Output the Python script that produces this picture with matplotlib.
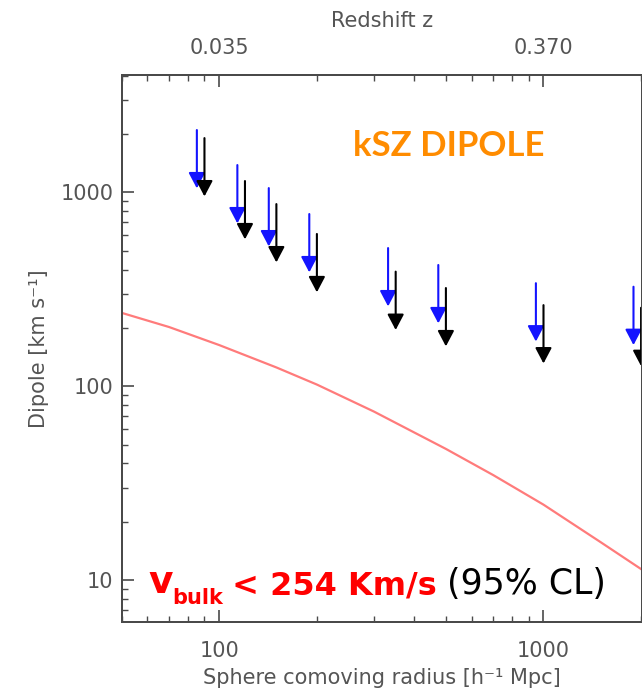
import matplotlib
matplotlib.use("Agg")
import matplotlib.pyplot as plt
import matplotlib.transforms as mtransforms
from matplotlib.ticker import FixedLocator, FixedFormatter, NullFormatter, LogLocator

# Sphere radii [h^-1 Mpc] of the upper limits
radius = [90, 120, 150, 200, 350, 500, 1000, 2000]
# 95% upper limits on the kSZ dipole [km/s]
dipole_blue = [2096, 1383, 1052, 773, 516, 422, 340, 326]
dipole_black = [1905, 1144, 870, 610, 390, 321, 262, 254]

# LCDM expectation of the bulk-flow dipole
model_radius = [50, 70, 100, 150, 200, 300, 500, 700, 1000, 1500, 2000]
model_velocity = [239, 202, 163, 125, 102, 74, 47.5, 34.8, 24.5, 15.7, 11.4]

x_ticks = [100, 1000]
x_tick_labels = ["100", "1000"]
z_tick_labels = ["0.035", "0.370"]
y_ticks = [10, 100, 1000]
y_tick_labels = ["10", "100", "1000"]

W, H = 642, 691
fig = plt.figure(figsize=(W / 100, H / 100), dpi=100)
left, right, top, bottom = 121.7, 642.0, 75.0, 622.0
ax = fig.add_axes([left / W, 1 - bottom / H, (right - left) / W, (bottom - top) / H])

ax.set_xscale("log")
ax.set_yscale("log")
ax.set_xlim(50, 2013)
ax.set_ylim(6.08, 4030)

axis_col = "#4a4a4a"
label_col = "#555555"
for sp in ax.spines.values():
    sp.set_color(axis_col)
    sp.set_linewidth(1.4)

# Model curve
ax.plot(model_radius, model_velocity, color="#ff7b7b", lw=1.6, zorder=2)


def draw_limits(xs, ys, color, dx):
    trans = mtransforms.offset_copy(ax.transData, fig=fig, x=dx, y=0, units="dots")
    for x, y in zip(xs, ys):
        ax.annotate("", xy=(x, y / 2.0), xycoords=trans,
                    xytext=(x, y), textcoords=trans,
                    arrowprops=dict(arrowstyle="-|>,head_length=0.95,head_width=0.5",
                                    mutation_scale=10, color=color, lw=1.5,
                                    shrinkA=0, shrinkB=0),
                    zorder=3)


draw_limits(radius, dipole_blue, "#1414ff", -7.6)
draw_limits(radius, dipole_black, "black", 0)

# Axis ticks
tick_kw = dict(direction="in", color=axis_col, labelcolor=label_col, labelsize=15)
ax.xaxis.set_major_locator(FixedLocator(x_ticks))
ax.xaxis.set_major_formatter(FixedFormatter(x_tick_labels))
ax.xaxis.set_minor_locator(LogLocator(base=10, subs=range(2, 10)))
ax.xaxis.set_minor_formatter(NullFormatter())
ax.yaxis.set_major_locator(FixedLocator(y_ticks))
ax.yaxis.set_major_formatter(FixedFormatter(y_tick_labels))
ax.yaxis.set_minor_locator(LogLocator(base=10, subs=range(2, 10)))
ax.yaxis.set_minor_formatter(NullFormatter())
ax.tick_params(axis="both", which="major", length=8.6, width=1.2, **tick_kw)
ax.tick_params(axis="both", which="minor", length=4.3, width=1.0, direction="in", color=axis_col)
ax.tick_params(axis="x", which="major", pad=14)
ax.tick_params(axis="y", which="major", pad=6)
ax.tick_params(right=False, which="both")

# Redshift axis on top
ax2 = ax.twiny()
ax2.set_xscale("log")
ax2.set_xlim(ax.get_xlim())
ax2.xaxis.set_major_locator(FixedLocator(x_ticks))
ax2.xaxis.set_major_formatter(FixedFormatter(z_tick_labels))
ax2.xaxis.set_minor_locator(LogLocator(base=10, subs=range(2, 10)))
ax2.xaxis.set_minor_formatter(NullFormatter())
ax2.tick_params(axis="x", which="major", length=8.6, width=1.2, pad=12, **tick_kw)
ax2.tick_params(axis="x", which="minor", length=4.3, width=1.0, direction="in", color=axis_col)
for sp in ax2.spines.values():
    sp.set_color(axis_col)
    sp.set_linewidth(1.4)

ax.set_xlabel("Sphere comoving radius [h⁻¹ Mpc]", fontsize=15, color=label_col, labelpad=5)
ax.set_ylabel("Dipole [km s⁻¹]", fontsize=15, color=label_col, labelpad=8)
ax2.set_xlabel("Redshift z", fontsize=15, color=label_col, labelpad=8)

# Annotations
fig.text(353 / W, 1 - 156 / H, "kSZ DIPOLE", fontsize=25, fontweight="bold",
         family=["Lato", "DejaVu Sans"], color="#ff8c00", va="baseline", ha="left")

t_v = fig.text(148 / W, 1 - 593 / H, "v", fontsize=27, fontweight="bold",
               color="#ff0000", va="baseline", ha="left")
t_sub = ax.annotate("bulk", xy=(1, 0), xycoords=t_v, xytext=(0, -5),
                    textcoords="offset points", fontsize=15, fontweight="bold",
                    color="#ff0000", va="bottom", ha="left")
t_main = ax.annotate(" < 254 Km/s", xy=(1, 0), xycoords=t_sub, xytext=(-2, 5),
                     textcoords="offset points", fontsize=23, fontweight="bold",
                     color="#ff0000", va="bottom", ha="left")
ax.annotate(" (95% CL)", xy=(1, 0), xycoords=t_main, xytext=(0, 0),
            textcoords="offset points", fontsize=25, color="black",
            va="bottom", ha="left")

fig.savefig("out.png", dpi=100)
